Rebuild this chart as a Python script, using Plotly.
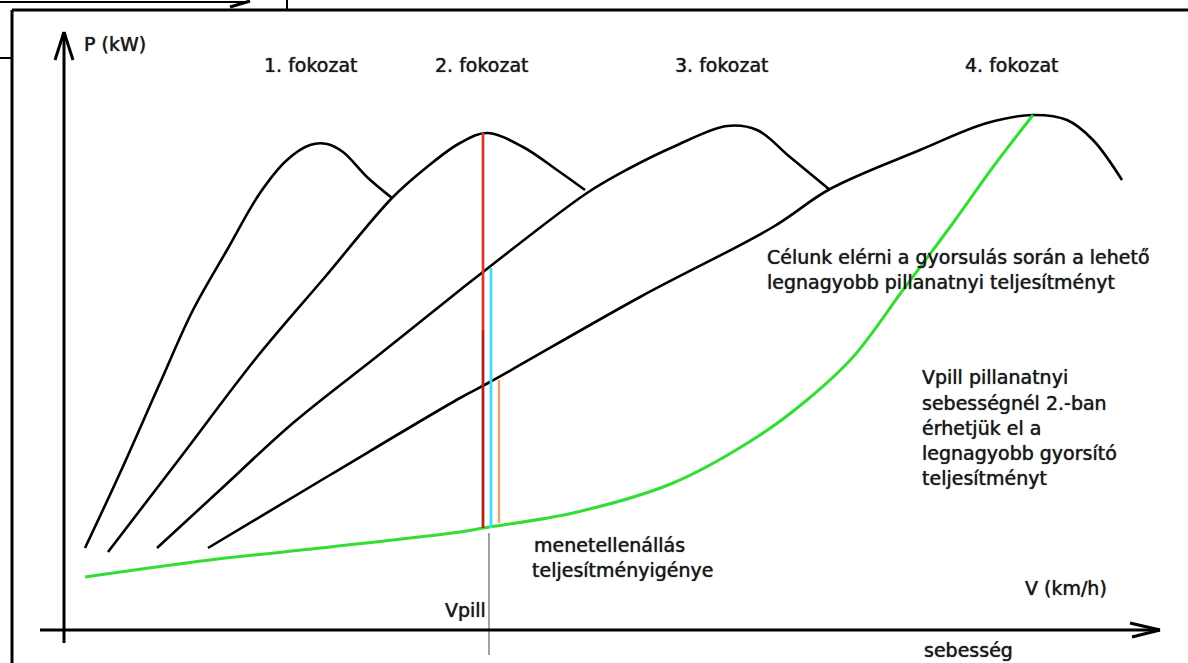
import plotly.graph_objects as go

# ---- data (speed units along x, power units along y) ----
gear1_v = [85, 120, 160, 193, 227, 260, 287, 310, 327, 343, 367, 392]
gear1_p = [115, 190, 280, 353, 413, 470, 503, 518, 519, 511, 486, 465]

gear2_v = [108, 180, 257, 325, 392, 427, 460, 487, 523, 557, 585]
gear2_p = [111, 205, 306, 386, 465, 496, 520, 530, 516, 493, 473]

gear3_v = [157, 220, 293, 380, 460, 483, 587, 630, 673, 727, 757, 790, 830]
gear3_p = [115, 173, 240, 309, 373, 391, 470, 495, 516, 537, 533, 506, 473]

gear4_v = [208, 330, 460, 490, 640, 773, 830, 920, 987, 1033, 1067, 1093, 1122]
gear4_p = [115, 188, 265, 281, 366, 436, 474, 513, 540, 548, 543, 523, 483]

resist_v = [85, 210, 330, 460, 483, 573, 673, 757, 807, 853, 903, 953, 993, 1033]
resist_p = [86, 103, 116, 131, 135, 150, 180, 226, 263, 306, 373, 440, 496, 548]

v_pill = 483
red_top_p = [530, 333]
red_bottom_p = [333, 135]
cyan_v = 491
cyan_p = [395, 135]
orange_v = 499
orange_p = [283, 140]
guide_v = 489
guide_p = [130, 8]

gear_labels = ["1. fokozat", "2. fokozat", "3. fokozat", "4. fokozat"]
gear_label_v = [262, 433, 673, 963]
gear_label_p = 598

goal_lines = ["Célunk elérni a gyorsulás során a lehető",
              "legnagyobb pillanatnyi teljesítményt"]
goal_v = 765
goal_p = [406, 381]

vpill_lines = ["Vpill pillanatnyi", "sebességnél 2.-ban", "érhetjük el a",
               "legnagyobb gyorsító", "teljesítményt"]
vpill_v = 920
vpill_p = [286, 260, 235, 210, 185]

resist_lines = ["menetellenállás", "teljesítményigénye"]
resist_lbl_v = [532, 530]
resist_lbl_p = [118, 93]

FONT = "DejaVu Sans"
TXT = "#1a1a1a"

fig = go.Figure()

def curve(v, p, color, width=2.6, shape="spline"):
    fig.add_trace(go.Scatter(x=v, y=p, mode="lines",
                             line=dict(color=color, width=width, shape=shape, smoothing=1.0),
                             hoverinfo="skip"))

curve(gear1_v, gear1_p, "black")
curve(gear2_v, gear2_p, "black")
curve(gear3_v, gear3_p, "black")
curve(gear4_v, gear4_p, "black")
curve(resist_v, resist_p, "#33dd33", width=3)

curve([v_pill, v_pill], red_top_p, "#d63a30", width=2.8, shape="linear")
curve([v_pill, v_pill], red_bottom_p, "#a8281e", width=2.8, shape="linear")
curve([cyan_v, cyan_v], cyan_p, "#44dcf0", width=2.8, shape="linear")
curve([orange_v, orange_v], orange_p, "#f2a070", width=2.4, shape="linear")
curve([guide_v, guide_v], guide_p, "#444444", width=1, shape="linear")

# ---- axes drawn as arrows, frame ----
shapes = []
def seg(x0, y0, x1, y1, w=3, c="black"):
    shapes.append(dict(type="line", xref="x", yref="y", x0=x0, y0=y0, x1=x1, y1=y1,
                       line=dict(color=c, width=w)))

# y axis (P)
seg(64, 20, 64, 631)
seg(55, 603, 64, 631)
seg(73, 603, 64, 631)
# x axis (V)
seg(40, 33, 1160, 33)
seg(1130, 40, 1160, 33)
seg(1132, 26, 1160, 33)
# frame
seg(12, 653, 1188, 653)
seg(12, 0, 12, 653)
# partial outer frame
seg(0, 661, 245, 661, w=2)
seg(230, 656, 250, 662, w=3)
seg(287, 663, 287, 653, w=2)
seg(0, 605, 12, 605, w=2)

ann = []
def txt(x, y, s, anchor="left"):
    ann.append(dict(x=x, y=y, xref="x", yref="y", text=s, showarrow=False,
                    xanchor=anchor, yanchor="middle",
                    font=dict(family=FONT, size=19, color=TXT,
                              shadow="0px 0px 1px rgba(0,0,0,0.9)")))

txt(82, 619, "P (kW)")
for s, v in zip(gear_labels, gear_label_v):
    txt(v, gear_label_p, s)
for s, p in zip(goal_lines, goal_p):
    txt(goal_v, p, s)
for s, p in zip(vpill_lines, vpill_p):
    txt(vpill_v, p, s)
for s, v, p in zip(resist_lines, resist_lbl_v, resist_lbl_p):
    txt(v, p, s)
txt(488, 53, "Vpill", anchor="right")
txt(1023, 75, "V (km/h)")
txt(922, 13, "sebesség")

fig.update_layout(
    width=1188, height=663,
    margin=dict(l=0, r=0, t=0, b=0),
    paper_bgcolor="white", plot_bgcolor="white",
    showlegend=False,
    xaxis=dict(range=[0, 1188], visible=False, fixedrange=True),
    yaxis=dict(range=[0, 663], visible=False, fixedrange=True),
    shapes=shapes, annotations=ann,
)

fig.write_html("out.html", config={"displayModeBar": False},
               post_script="document.body.style.margin='0';document.body.style.overflow='hidden';")
